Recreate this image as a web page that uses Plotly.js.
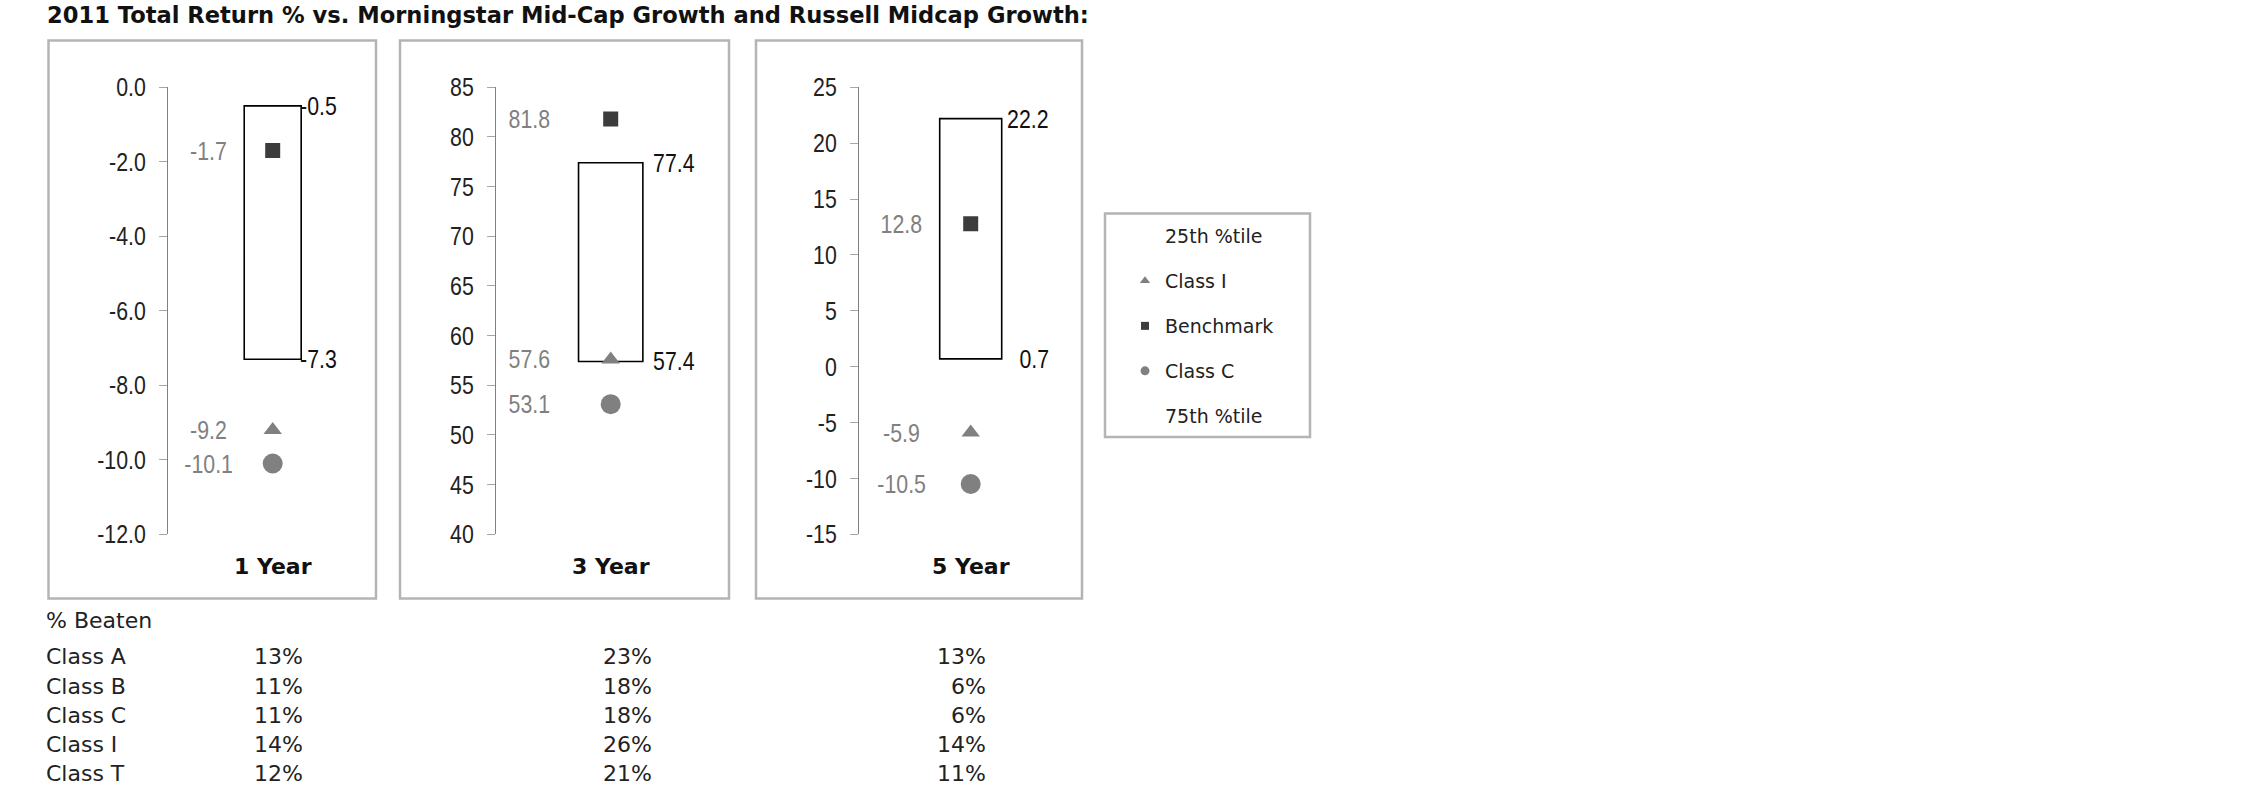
<!DOCTYPE html>
<html>
<head>
<meta charset="utf-8">
<script src="https://cdn.plot.ly/plotly-3.0.1.min.js"></script>
<style>html,body{margin:0;padding:0;background:#fff;}#chart{width:2250px;height:796px;}</style>
</head>
<body>
<div id="chart"></div>
<script>
// ---------- data ----------
var titleText = '2011 Total Return % vs. Morningstar Mid-Cap Growth and Russell Midcap Growth:';
var periods = ['1 Year', '3 Year', '5 Year'];
var pct25 = [-0.5, 77.4, 22.2];      // 25th %tile (top of box)
var pct75 = [-7.3, 57.4, 0.7];       // 75th %tile (bottom of box)
var classI = [-9.2, 57.6, -5.9];
var benchmark = [-1.7, 81.8, 12.8];
var classC = [-10.1, 53.1, -10.5];

var tickVals1 = [0, -2, -4, -6, -8, -10, -12];
var tickText1 = ['0.0', '-2.0', '-4.0', '-6.0', '-8.0', '-10.0', '-12.0'];
var tickVals2 = [40, 45, 50, 55, 60, 65, 70, 75, 80, 85];
var tickText2 = ['40', '45', '50', '55', '60', '65', '70', '75', '80', '85'];
var tickVals3 = [-15, -10, -5, 0, 5, 10, 15, 20, 25];
var tickText3 = ['-15', '-10', '-5', '0', '5', '10', '15', '20', '25'];
var yRanges = [[-12, 0], [40, 85], [-15, 25]];

var legendNames = ['25th %tile', 'Class I', 'Benchmark', 'Class C', '75th %tile'];

var beatenTitle = '% Beaten';
var beatenClasses = ['Class A', 'Class B', 'Class C', 'Class I', 'Class T'];
var beaten1Y = [13, 11, 11, 14, 12];
var beaten3Y = [23, 18, 18, 26, 21];
var beaten5Y = [13, 6, 6, 14, 11];

// ---------- layout helpers ----------
var W = 2250, H = 796;
function px(x) { return x / W; }
function py(y) { return 1 - y / H; }

var NARROW = 'Liberation Sans, Arial, sans-serif';   // squeezed horizontally after render
var SQUEEZE = 0.82;
var VERDANA = 'Verdana, DejaVu Sans, sans-serif';

var panels = [
  { dom: [168, 377.4], boxW: 0.544, leftX: -0.618, rightX: 0.633, frame: [48.5, 376] },
  { dom: [496, 725.4], boxW: 0.561, leftX: -0.704, rightX: 0.756, frame: [400, 729] },
  { dom: [859, 1082.4], boxW: 0.555, leftX: -0.624, rightX: 0.717, frame: [756, 1082] }
];
var tickSets = [[tickVals1, tickText1], [tickVals2, tickText2], [tickVals3, tickText3]];

var traces = [];
var annotations = [];
var narrowAnn = {};
var shapes = [];
var layout = {
  width: W, height: H,
  margin: { l: 0, r: 0, t: 0, b: 0 },
  paper_bgcolor: '#ffffff', plot_bgcolor: 'rgba(0,0,0,0)',
  showlegend: true,
  title: {
    text: titleText, x: px(47), xanchor: 'left', xref: 'paper',
    y: py(15), yanchor: 'middle', yref: 'paper',
    font: { family: VERDANA, size: 22.6, color: '#111', weight: 'bold' }
  },
  legend: {
    x: px(1125), y: py(217), xanchor: 'left', yanchor: 'top',
    bgcolor: 'rgba(0,0,0,0)', borderwidth: 0,
    font: { family: VERDANA, size: 19, color: '#222' },
    traceorder: 'grouped', tracegroupgap: 17.3, itemwidth: 30
  },
  hovermode: false
};

panels.forEach(function (p, i) {
  var n = i === 0 ? '' : String(i + 1);
  var xa = 'x' + n, ya = 'y' + n;
  layout['xaxis' + n] = {
    domain: [px(p.dom[0]), px(p.dom[1])], range: [-1, 1],
    visible: false, fixedrange: true, anchor: ya
  };
  layout['yaxis' + n] = {
    domain: [py(534.3), py(87.3)], range: yRanges[i], anchor: xa,
    showline: true, linecolor: '#808080', linewidth: 1,
    ticks: 'outside', ticklen: 8, tickcolor: '#a6a6a6', tickwidth: 1,
    tickmode: 'array', tickvals: tickSets[i][0], ticktext: tickSets[i][1],
    ticklabelstandoff: 8,
    tickfont: { family: NARROW, size: 26, color: '#222' },
    showgrid: false, zeroline: false, fixedrange: true
  };

  // percentile box
  traces.push({
    type: 'bar', x: [0], base: [pct75[i]], y: [pct25[i] - pct75[i]], width: [p.boxW],
    xaxis: xa, yaxis: ya, showlegend: false, hoverinfo: 'skip',
    marker: { color: '#ffffff', line: { color: '#000000', width: 1.6 } }
  });
  // markers
  traces.push({
    type: 'scatter', mode: 'markers', x: [0], y: [benchmark[i]], xaxis: xa, yaxis: ya,
    showlegend: false, hoverinfo: 'skip',
    marker: { symbol: 'square', size: 15, color: '#3c3c3c' }
  });
  traces.push({
    type: 'scatter', mode: 'markers', x: [0], y: [classI[i]], xaxis: xa, yaxis: ya,
    showlegend: false, hoverinfo: 'skip',
    marker: { symbol: 'triangle-up', size: 16, color: '#808080' }
  });
  traces.push({
    type: 'scatter', mode: 'markers', x: [0], y: [classC[i]], xaxis: xa, yaxis: ya,
    showlegend: false, hoverinfo: 'skip',
    marker: { symbol: 'circle', size: 20, color: '#808080' }
  });

  // left (gray) value labels
  [benchmark[i], classI[i], classC[i]].forEach(function (v) {
    narrowAnn[annotations.length] = 'center';
    annotations.push({
      xref: xa, yref: ya, x: p.leftX, y: v, text: v.toFixed(1), showarrow: false,
      xanchor: 'center', yanchor: 'middle',
      font: { family: NARROW, size: 26, color: '#808080' }
    });
  });
  // right (black) percentile labels
  [pct25[i], pct75[i]].forEach(function (v) {
    narrowAnn[annotations.length] = 'right';
    annotations.push({
      xref: xa, yref: ya, x: p.rightX, y: v, text: v.toFixed(1), showarrow: false,
      xanchor: 'right', yanchor: 'middle',
      font: { family: NARROW, size: 26, color: '#111' }
    });
  });
  // period label
  annotations.push({
    xref: xa, yref: 'paper', x: 0, y: py(566.7), text: periods[i], showarrow: false,
    xanchor: 'center', yanchor: 'middle',
    font: { family: VERDANA, size: 22, color: '#111', weight: 'bold' }
  });
  // panel frame
  shapes.push({
    type: 'rect', xref: 'paper', yref: 'paper',
    x0: px(p.frame[0]), x1: px(p.frame[1]), y0: py(598.5), y1: py(40.5),
    line: { color: '#b4b4b4', width: 2.5 }, fillcolor: 'rgba(0,0,0,0)', layer: 'below'
  });
});

// legend frame
shapes.push({
  type: 'rect', xref: 'paper', yref: 'paper',
  x0: px(1105), x1: px(1310), y0: py(437), y1: py(213.5),
  line: { color: '#b4b4b4', width: 2.5 }, fillcolor: 'rgba(0,0,0,0)', layer: 'below'
});

// legend-only entries
var legendMarkers = [
  { symbol: 'square', size: 9, color: 'rgba(0,0,0,0)' },
  { symbol: 'triangle-up', size: 9, color: '#808080' },
  { symbol: 'square', size: 8, color: '#3c3c3c' },
  { symbol: 'circle', size: 9, color: '#808080' },
  { symbol: 'square', size: 9, color: 'rgba(0,0,0,0)' }
];
legendNames.forEach(function (nm, k) {
  traces.push({
    type: 'scatter', mode: 'markers', x: [null], y: [null], name: nm,
    legendgroup: 'g' + k, showlegend: true, hoverinfo: 'skip',
    marker: legendMarkers[k]
  });
});

// % Beaten table
annotations.push({
  xref: 'paper', yref: 'paper', x: px(44), y: py(620), text: beatenTitle, showarrow: false,
  xanchor: 'left', yanchor: 'middle', font: { family: VERDANA, size: 22, color: '#222' }
});
var rowY = [656.7, 686, 715, 744, 773.3];
var colX = [304.7, 653.5, 988];
var cols = [beaten1Y, beaten3Y, beaten5Y];
beatenClasses.forEach(function (c, r) {
  annotations.push({
    xref: 'paper', yref: 'paper', x: px(44), y: py(rowY[r]), text: c, showarrow: false,
    xanchor: 'left', yanchor: 'middle', font: { family: VERDANA, size: 22, color: '#222' }
  });
  cols.forEach(function (arr, ci) {
    annotations.push({
      xref: 'paper', yref: 'paper', x: px(colX[ci]), y: py(rowY[r]), text: arr[r] + '%',
      showarrow: false, xanchor: 'right', yanchor: 'middle',
      font: { family: VERDANA, size: 22, color: '#222' }
    });
  });
});

layout.annotations = annotations;
layout.shapes = shapes;

// horizontal squeeze to imitate a narrow (Arial Narrow-like) face
function squeeze(el, anchor) {
  if (!el || el.getAttribute('data-squeezed')) return;
  var bb = el.getBBox();
  var ax = anchor === 'right' ? bb.x + bb.width : (anchor === 'left' ? bb.x : bb.x + bb.width / 2);
  var tr = el.getAttribute('transform') || '';
  el.setAttribute('transform', tr + ' translate(' + ax + ',0) scale(' + SQUEEZE + ',1) translate(' + (-ax) + ',0)');
  el.setAttribute('data-squeezed', '1');
}

Plotly.newPlot('chart', traces, layout, { staticPlot: true, displayModeBar: false }).then(function (gd) {
  gd.querySelectorAll('g.ytick text, g.y2tick text, g.y3tick text').forEach(function (t) { squeeze(t, 'right'); });
  var anns = gd.querySelectorAll('g.annotation');
  anns.forEach(function (g) {
    var idx = +g.getAttribute('data-index');
    if (narrowAnn.hasOwnProperty(idx)) {
      squeeze(g.querySelector('text.annotation-text'), narrowAnn[idx]);
    }
  });
});
</script>
</body>
</html>
